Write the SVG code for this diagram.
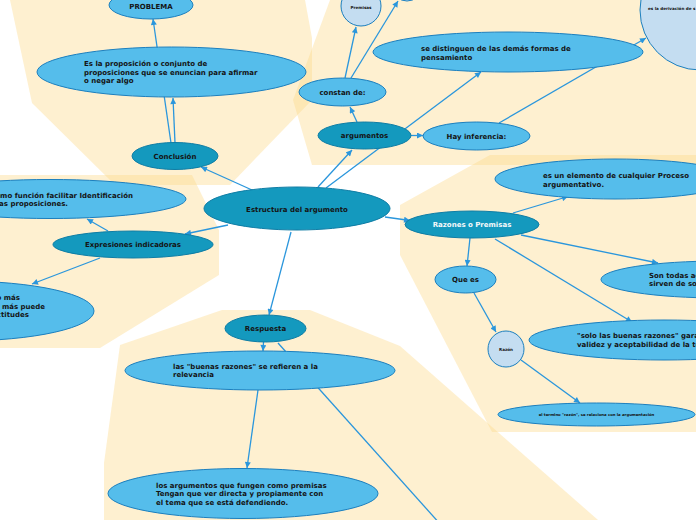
<svg xmlns="http://www.w3.org/2000/svg" width="696" height="520" viewBox="0 0 696 520">
<defs>
<style>
.bg{fill:#FDD98A;fill-opacity:0.4;stroke:none}
.c{stroke:#2A96DC;stroke-width:1.3;fill:none}
.ca{stroke:#2A96DC;stroke-width:1.3;fill:none;marker-end:url(#ah)}
.lb{fill:#55BDEB;stroke:#1C7FBE;stroke-width:1}
.dk{fill:#1499BE;stroke:#0F7DA5;stroke-width:1}
.ci{fill:#C4DDF1;stroke:#1C7FBE;stroke-width:1}
text{font-family:"DejaVu Sans","Verdana",sans-serif;font-weight:bold;font-size:7px;fill:#141414}
.m{text-anchor:middle}
.e{text-anchor:end}
.w{fill:#F4F8FA}
.t{font-size:4.1px}
.tt{font-size:3.8px}
</style>
<marker id="ah" viewBox="0 0 10 10" refX="10" refY="5" markerWidth="7" markerHeight="6" markerUnits="userSpaceOnUse" orient="auto">
<path d="M0,0 L10,5 L0,10 z" fill="#2A96DC"/>
</marker>
</defs>

<g id="background">
<polygon class="bg" points="10,0 305,0 312,38 312,100 230,185 115,185 32,103"/>
<polygon class="bg" points="0,175 192,175 219,230 219,275 100,348 0,348"/>
<polygon class="bg" points="330,0 696,0 696,165 312,165 293,100"/>
<polygon class="bg" points="400,205 490,155 696,155 696,432 492,432 400,255"/>
<polygon class="bg" points="222,310 310,310 400,346 598,520 104,520 104,463 120,345"/>
</g>

<g id="connectors">
<line class="ca" x1="252" y1="190" x2="201" y2="167"/>
<line class="ca" x1="228" y1="225" x2="185" y2="234"/>
<line class="ca" x1="108" y1="231" x2="87" y2="219"/>
<line class="ca" x1="100" y1="258" x2="32" y2="284"/>
<line class="ca" x1="171" y1="143" x2="153" y2="19"/>
<line class="ca" x1="175" y1="143" x2="173" y2="98"/>
<line class="ca" x1="318" y1="187" x2="352" y2="150"/>
<line class="ca" x1="326" y1="188" x2="481" y2="72"/>
<line class="ca" x1="357" y1="122" x2="350" y2="107"/>
<line class="ca" x1="411" y1="135.5" x2="423" y2="135.5"/>
<line class="ca" x1="345" y1="78" x2="356" y2="27"/>
<line class="ca" x1="351" y1="78" x2="398" y2="1"/>
<line class="ca" x1="499" y1="123" x2="646" y2="38"/>
<line class="ca" x1="385" y1="217" x2="410" y2="220.5"/>
<line class="ca" x1="513" y1="213" x2="568" y2="196.5"/>
<line class="ca" x1="521" y1="235" x2="658" y2="263"/>
<line class="ca" x1="495" y1="239" x2="632" y2="322"/>
<line class="ca" x1="470" y1="238" x2="467" y2="266"/>
<line class="ca" x1="474" y1="293" x2="496" y2="332"/>
<line class="ca" x1="521" y1="360" x2="580" y2="403"/>
<line class="ca" x1="291" y1="232" x2="269" y2="315"/>
<line class="ca" x1="263.5" y1="342" x2="263" y2="351"/>
<line class="ca" x1="258" y1="390" x2="247" y2="468"/>
<line class="c" x1="278" y1="343" x2="441" y2="525"/>
</g>

<g id="n-problema">
<ellipse class="lb" cx="151" cy="5" rx="42" ry="14"/>
<text class="m" x="151" y="9">PROBLEMA</text>
</g>

<g id="n-proposicion">
<ellipse class="lb" cx="171.5" cy="72" rx="134.5" ry="25"/>
<text x="84" y="66">Es la proposición o conjunto de</text>
<text x="84" y="74.7">proposiciones que se enuncian para afirmar</text>
<text x="84" y="83.4">o negar algo</text>
</g>

<g id="n-conclusion">
<ellipse class="dk" cx="175" cy="156" rx="43" ry="13.5"/>
<text class="m" x="175" y="158.5">Conclusión</text>
</g>

<g id="n-estructura">
<ellipse class="dk" cx="297" cy="208.5" rx="93" ry="21.5"/>
<text class="m" x="297" y="211.5">Estructura del argumento</text>
</g>

<g id="n-funcion">
<ellipse class="lb" cx="50" cy="199" rx="136" ry="19.5"/>
<text class="e" x="133" y="197.5">mo función facilitar Identificación</text>
<text class="e" x="68" y="206">as proposiciones.</text>
</g>

<g id="n-expresiones">
<ellipse class="dk" cx="133" cy="244.5" rx="80" ry="13.5"/>
<text class="m" x="133" y="247">Expresiones indicadoras</text>
</g>

<g id="n-mas">
<ellipse class="lb" cx="-40" cy="311" rx="134" ry="30"/>
<text class="e" x="20" y="300">o más</text>
<text class="e" x="45" y="308.7">más puede</text>
<text class="e" x="29" y="317.4">ctitudes</text>
</g>

<g id="n-constan">
<ellipse class="lb" cx="342.5" cy="92" rx="43.5" ry="14"/>
<text class="m" x="342.5" y="94.5">constan de:</text>
</g>

<g id="n-argumentos">
<ellipse class="dk" cx="364.5" cy="135.5" rx="46.5" ry="13.5"/>
<text class="m" x="364.5" y="138">argumentos</text>
</g>

<g id="n-inferencia">
<ellipse class="lb" cx="476.5" cy="136" rx="53.5" ry="14"/>
<text class="m" x="476.5" y="138.5">Hay inferencia:</text>
</g>

<g id="n-distinguen">
<ellipse class="lb" cx="508" cy="52" rx="135" ry="20"/>
<text x="421" y="51">se distinguen de las demás formas de</text>
<text x="421" y="59.5">pensamiento</text>
</g>

<g id="n-premisas">
<circle class="ci" cx="361" cy="6" r="20"/>
<text class="m t" x="361" y="8.5">Premisas</text>
</g>

<g id="n-top">
<ellipse class="ci" cx="407" cy="-12" rx="14" ry="13"/>
</g>

<g id="n-derivacion">
<circle class="ci" cx="700" cy="10" r="60"/>
<text class="t" x="648" y="10">es la derivación de s</text>
</g>

<g id="n-razones">
<ellipse class="dk" cx="472" cy="224.5" rx="67" ry="13.5"/>
<text class="m w" x="472" y="227">Razones o Premisas</text>
</g>

<g id="n-elemento">
<ellipse class="lb" cx="615" cy="179" rx="120" ry="20"/>
<text x="543" y="178">es un elemento de cualquier Proceso</text>
<text x="543" y="186.5">argumentativo.</text>
</g>

<g id="n-quees">
<ellipse class="lb" cx="465.5" cy="279.5" rx="30.5" ry="13.5"/>
<text class="m" x="465.5" y="282">Que es</text>
</g>

<g id="n-sontodas">
<ellipse class="lb" cx="720" cy="279.5" rx="119" ry="18.5"/>
<text x="649" y="277.5">Son todas ac</text>
<text x="649" y="286">sirven de so</text>
</g>

<g id="n-solo">
<ellipse class="lb" cx="664" cy="340" rx="135" ry="20"/>
<text x="577" y="338">"solo las buenas razones" gara</text>
<text x="577" y="346.5">validez y aceptabilidad de la te</text>
</g>

<g id="n-razon">
<circle class="ci" cx="506" cy="349" r="18"/>
<text class="m t" x="506" y="350.5">Razón</text>
</g>

<g id="n-termino">
<ellipse class="lb" cx="596.5" cy="414.5" rx="98.5" ry="11.5"/>
<text class="m tt" x="596.5" y="416">el termino "razón", se relaciona con la argumentación</text>
</g>

<g id="n-respuesta">
<ellipse class="dk" cx="265.5" cy="328.5" rx="40.5" ry="13.5"/>
<text class="m" x="265.5" y="331">Respuesta</text>
</g>

<g id="n-buenas">
<ellipse class="lb" cx="260" cy="370.5" rx="135" ry="19.5"/>
<text x="173" y="368.5">las "buenas razones" se refieren a la</text>
<text x="173" y="377">relevancia</text>
</g>

<g id="n-fungen">
<ellipse class="lb" cx="243" cy="493.5" rx="135" ry="25"/>
<text x="156" y="487.7">los argumentos que fungen como premisas</text>
<text x="156" y="496.3">Tengan que ver directa y propiamente con</text>
<text x="156" y="505">el tema que se está defendiendo.</text>
</g>
</svg>
